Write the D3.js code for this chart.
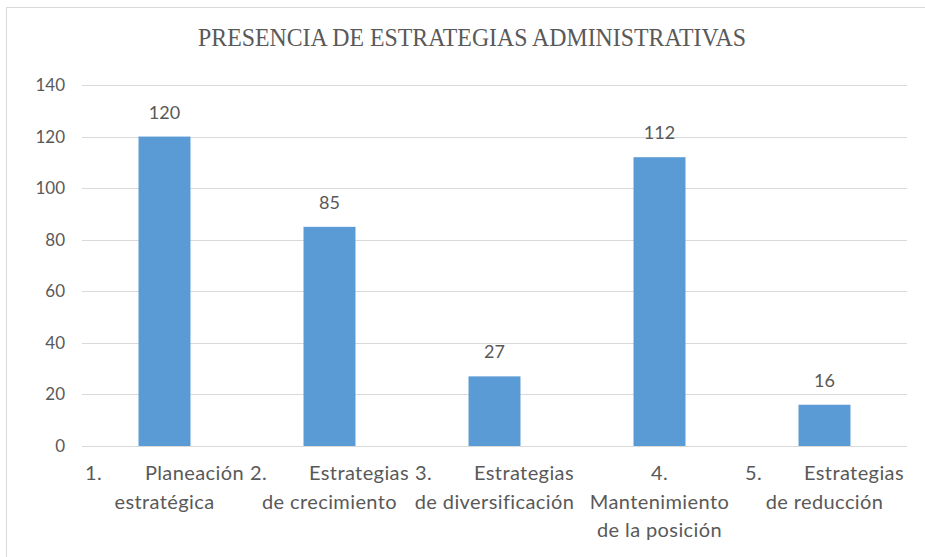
<!DOCTYPE html>
<html>
<head>
<meta charset="utf-8">
<script src="https://cdn.jsdelivr.net/npm/d3@7"></script>
<style>
  body { margin: 0; background: #fff; }
  text { font-family: Lato, "Open Sans", sans-serif; fill: #595959; }
</style>
</head>
<body>
<svg id="chart" width="925" height="557"></svg>
<script>
var title = "PRESENCIA DE ESTRATEGIAS ADMINISTRATIVAS";
var categories = ["cat1", "cat2", "cat3", "cat4", "cat5"];
var values = [120, 85, 27, 112, 16];
// each label: list of lines, each line is [left part, right part] or a centered string
var labelLines = [
  [["1.", "Planeación"], "estratégica"],
  [["2.", "Estrategias"], "de crecimiento"],
  [["3.", "Estrategias"], "de diversificación"],
  ["4.", "Mantenimiento", "de la posición"],
  [["5.", "Estrategias"], "de reducción"]
];
var yTicks = [0, 20, 40, 60, 80, 100, 120, 140];

var svg = d3.select("#chart");

// chart border
svg.append("rect")
  .attr("x", 6.5).attr("y", 7.5)
  .attr("width", 930).attr("height", 560)
  .attr("fill", "none")
  .attr("stroke", "#d9d9d9");

svg.append("text")
  .attr("x", 472).attr("y", 46)
  .attr("text-anchor", "middle")
  .style("font-family", "'Liberation Serif', serif")
  .style("font-size", "25px")
  .attr("textLength", 548)
  .attr("lengthAdjust", "spacingAndGlyphs")
  .text(title);

var x = d3.scaleBand()
  .domain(categories)
  .range([82, 907])
  .paddingInner(0.685)
  .paddingOuter(0.3425);

var y = d3.scaleLinear()
  .domain([0, 140])
  .range([446, 85]);

// gridlines
svg.selectAll(".grid")
  .data(yTicks)
  .enter()
  .append("line")
  .attr("class", "grid")
  .attr("x1", 82).attr("x2", 907)
  .attr("y1", function (d) { return Math.round(y(d)) + 0.5; })
  .attr("y2", function (d) { return Math.round(y(d)) + 0.5; })
  .attr("stroke", "#d9d9d9")
  .attr("stroke-width", 1);

var yAxis = d3.axisLeft(y).tickValues(yTicks).tickSize(0).tickPadding(17);
var gy = svg.append("g").attr("transform", "translate(82,0)").call(yAxis);
gy.select(".domain").remove();
gy.selectAll("text")
  .style("font-size", "17px")
  .style("font-family", "Lato, sans-serif")
  .attr("fill", "#595959");

svg.selectAll(".bar")
  .data(values)
  .enter()
  .append("rect")
  .attr("class", "bar")
  .attr("x", function (d, i) { return x(categories[i]); })
  .attr("width", x.bandwidth())
  .attr("y", function (d) { return y(d); })
  .attr("height", function (d) { return y(0) - y(d); })
  .attr("fill", "#5b9bd5");

// baseline
svg.append("line")
  .attr("x1", 82).attr("x2", 907)
  .attr("y1", Math.round(y(0)) + 0.5).attr("y2", Math.round(y(0)) + 0.5)
  .attr("stroke", "#d9d9d9");

svg.selectAll(".value")
  .data(values)
  .enter()
  .append("text")
  .attr("class", "value")
  .attr("x", function (d, i) { return x(categories[i]) + x.bandwidth() / 2; })
  .attr("y", function (d) { return y(d) - 18; })
  .attr("text-anchor", "middle")
  .style("font-size", "18px")
  .text(function (d) { return d; });

// category labels
var step = x.step();
labelLines.forEach(function (lines, i) {
  var cx = x(categories[i]) + x.bandwidth() / 2;
  var g = svg.append("g")
    .style("font-size", "20px")
    .style("letter-spacing", "0.4px");
  lines.forEach(function (ln, k) {
    var ty = 480 + k * 28.5;
    if (Array.isArray(ln)) {
      g.append("text").attr("x", cx - step / 2 + 3).attr("y", ty)
        .attr("text-anchor", "start").text(ln[0]);
      g.append("text").attr("x", cx + step / 2 - 3).attr("y", ty)
        .attr("text-anchor", "end").text(ln[1]);
    } else {
      g.append("text").attr("x", cx).attr("y", ty)
        .attr("text-anchor", "middle").text(ln);
    }
  });
});
</script>
</body>
</html>
